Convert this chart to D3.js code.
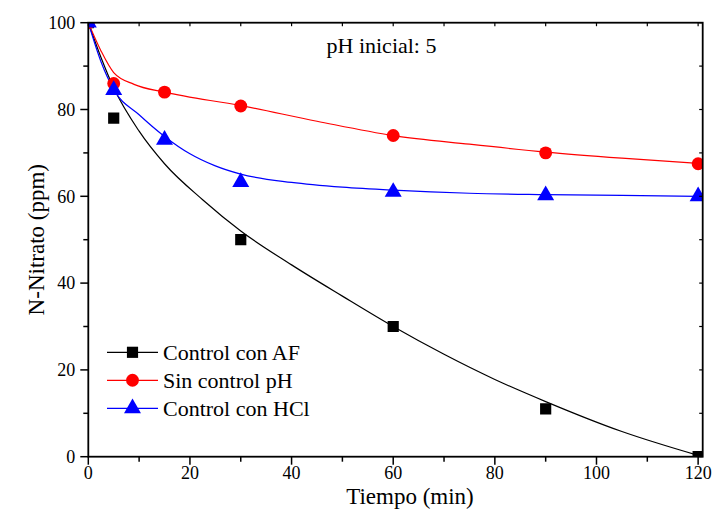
<!DOCTYPE html>
<html>
<head>
<meta charset="utf-8">
<script src="https://cdn.jsdelivr.net/npm/d3@7"></script>
<style>
  body { margin: 0; background: #fff; }
  text { font-family: "Liberation Serif", "DejaVu Serif", serif; fill: #000; }
</style>
</head>
<body>
<div id="chart"></div>
<script>
// datos medidos
const tiempoAF = [0, 5, 30, 60, 90, 120];
const nitratoAF = [100, 78, 50, 30, 11, 0];
const tiempoPH = [0, 5, 15, 30, 60, 90, 120];
const nitratoPH = [100, 86, 84, 80.8, 74, 70, 67.5];
const tiempoHCl = [0, 5, 15, 30, 60, 90, 120];
const nitratoHCl = [100, 84.5, 73, 63.3, 61, 60.2, 60];

// curvas de ajuste
const ajusteTAF = [0, 2.5, 5, 10, 15, 22.5, 30, 40, 50, 60, 70, 80, 90, 105, 120];
const ajusteAF = [100, 92, 85, 75, 67.5, 59.2, 52, 44.2, 37, 30, 23.6, 17.8, 12.7, 5.8, 0.3];
const ajusteTPH = [0, 2.5, 5, 9, 15, 30, 45, 60, 75, 90, 105, 120];
const ajustePH = [100, 93.5, 88.5, 85.8, 84, 80.9, 77.3, 74, 72, 70.2, 68.8, 67.6];
const ajusteTHCl = [0, 2.5, 5, 10, 15, 20, 25, 30, 40, 50, 60, 75, 90, 105, 120];
const ajusteHCl = [100, 91, 84.6, 78.8, 73.8, 69.8, 67, 65.1, 63.2, 62.1, 61.4, 60.7, 60.4, 60.2, 60];

const xTicks = [0, 20, 40, 60, 80, 100, 120];
const yTicks = [0, 20, 40, 60, 80, 100];
const series = ["Control con AF", "Sin control pH", "Control con HCl"];

const width = 716, height = 511;
const plotLeft = 88.3, plotRight = 702.7, plotTop = 22.7, plotBottom = 456.7;

const svg = d3.select("#chart").append("svg")
  .attr("width", width)
  .attr("height", height);

const x = d3.scaleLinear().domain([0, 120.9]).range([plotLeft, plotRight]);
const y = d3.scaleLinear().domain([0, 100]).range([plotBottom, plotTop]);

svg.append("clipPath").attr("id", "clip")
  .append("rect")
  .attr("x", plotLeft).attr("y", plotTop)
  .attr("width", plotRight - plotLeft).attr("height", plotBottom - plotTop);

const colors = ["#000000", "#ff0000", "#0000ff"];
const symbols = [
  d3.symbol().type(d3.symbolSquare).size(125),
  d3.symbol().type(d3.symbolCircle).size(130),
  d3.symbol().type(d3.symbolTriangle).size(125)
];

const line = d3.line()
  .x(d => x(d[0]))
  .y(d => y(d[1]))
  .curve(d3.curveMonotoneX);

const plot = svg.append("g").attr("clip-path", "url(#clip)");

const fits = [
  d3.zip(ajusteTAF, ajusteAF),
  d3.zip(ajusteTPH, ajustePH),
  d3.zip(ajusteTHCl, ajusteHCl)
];
const points = [
  d3.zip(tiempoAF, nitratoAF),
  d3.zip(tiempoPH, nitratoPH),
  d3.zip(tiempoHCl, nitratoHCl)
];

fits.forEach((f, i) => {
  plot.append("path")
    .datum(f)
    .attr("d", line)
    .attr("fill", "none")
    .attr("stroke", colors[i])
    .attr("stroke-width", 1.2);
});

points.forEach((p, i) => {
  plot.append("g")
    .selectAll("path")
    .data(p)
    .join("path")
    .attr("transform", d => `translate(${x(d[0])},${y(d[1])})`)
    .attr("d", symbols[i])
    .attr("fill", colors[i]);
});

// ejes
const xMinor = d3.range(10, 121, 20);
const yMinor = d3.range(10, 100, 20);

const axes = svg.append("g").attr("stroke", "#000");

// abajo
axes.append("g").selectAll("line").data(xTicks).join("line")
  .attr("x1", d => x(d)).attr("x2", d => x(d))
  .attr("y1", plotBottom).attr("y2", plotBottom + 8)
  .attr("stroke-width", 1.5);
axes.append("g").selectAll("line").data(xMinor).join("line")
  .attr("x1", d => x(d)).attr("x2", d => x(d))
  .attr("y1", plotBottom).attr("y2", plotBottom + 5)
  .attr("stroke-width", 1.5);
// arriba
axes.append("g").selectAll("line").data(xTicks.concat(xMinor)).join("line")
  .attr("x1", d => x(d)).attr("x2", d => x(d))
  .attr("y1", plotTop).attr("y2", plotTop + 3.5)
  .attr("stroke-width", 1.2);
// izquierda
axes.append("g").selectAll("line").data(yTicks).join("line")
  .attr("x1", plotLeft - 8).attr("x2", plotLeft)
  .attr("y1", d => y(d)).attr("y2", d => y(d))
  .attr("stroke-width", 1.5);
axes.append("g").selectAll("line").data(yMinor).join("line")
  .attr("x1", plotLeft - 5).attr("x2", plotLeft)
  .attr("y1", d => y(d)).attr("y2", d => y(d))
  .attr("stroke-width", 1.5);
// derecha
axes.append("g").selectAll("line").data(yTicks.concat(yMinor)).join("line")
  .attr("x1", plotRight - 3.5).attr("x2", plotRight)
  .attr("y1", d => y(d)).attr("y2", d => y(d))
  .attr("stroke-width", 1.2);

svg.append("rect")
  .attr("x", plotLeft).attr("y", plotTop)
  .attr("width", plotRight - plotLeft).attr("height", plotBottom - plotTop)
  .attr("fill", "none")
  .attr("stroke", "#000")
  .attr("stroke-width", 1.8);

svg.append("g")
  .attr("text-anchor", "middle")
  .style("font-size", "18px")
  .selectAll("text").data(xTicks).join("text")
  .attr("x", d => x(d))
  .attr("y", plotBottom + 22)
  .text(d => d);

svg.append("g")
  .attr("text-anchor", "end")
  .style("font-size", "18px")
  .selectAll("text").data(yTicks).join("text")
  .attr("x", plotLeft - 13)
  .attr("y", d => y(d))
  .attr("dy", "0.35em")
  .text(d => d);

svg.append("text")
  .attr("x", 410)
  .attr("y", 504)
  .attr("text-anchor", "middle")
  .style("font-size", "23px")
  .text("Tiempo (min)");

svg.append("text")
  .attr("transform", `translate(44,${(plotTop + plotBottom) / 2}) rotate(-90)`)
  .attr("text-anchor", "middle")
  .style("font-size", "23px")
  .text("N-Nitrato (ppm)");

svg.append("text")
  .attr("x", 326.5)
  .attr("y", 53.3)
  .style("font-size", "22px")
  .text("pH inicial: 5");

// leyenda
const legend = svg.append("g")
  .selectAll("g").data(series).join("g")
  .attr("transform", (d, i) => `translate(107,${352.3 + i * 28})`);

legend.append("line")
  .attr("x1", 0).attr("x2", 51)
  .attr("stroke", (d, i) => colors[i])
  .attr("stroke-width", 1.2);

legend.append("path")
  .attr("transform", "translate(25.5,0)")
  .attr("d", (d, i) => symbols[i]())
  .attr("fill", (d, i) => colors[i]);

legend.append("text")
  .attr("x", 56)
  .attr("y", 0)
  .attr("dy", "0.33em")
  .style("font-size", "22px")
  .text(d => d);
</script>
</body>
</html>
